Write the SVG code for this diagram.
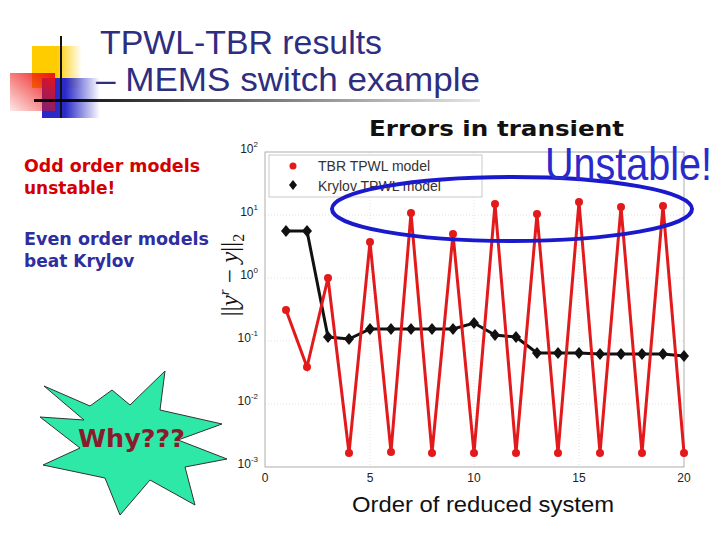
<svg xmlns="http://www.w3.org/2000/svg" width="720" height="540" viewBox="0 0 720 540">
<defs>
<style>
.t{font-family:"Liberation Sans",Arial,sans-serif}
.b{font-family:"DejaVu Sans","Liberation Sans",sans-serif;font-weight:bold}
.tick{font-family:"Liberation Sans",Arial,sans-serif;font-size:12px;fill:#222}
.grid{stroke:#ccc;stroke-width:0.6;stroke-dasharray:1 2}
.red{fill:#e31a1c}
</style>
<linearGradient id="gh" x1="0" x2="1"><stop offset="0" stop-color="#000"/><stop offset="1" stop-color="#000" stop-opacity="0.1"/></linearGradient>
<linearGradient id="gy" x1="0" x2="1"><stop offset="0.5" stop-color="#ffcc00"/><stop offset="1" stop-color="#ffcc00" stop-opacity="0"/></linearGradient>
<linearGradient id="gb" x1="0" x2="1"><stop offset="0.4" stop-color="#2a2ac8"/><stop offset="1" stop-color="#2a2ac8" stop-opacity="0"/></linearGradient>
<linearGradient id="gr" x1="1" x2="0" y1="0" y2="1"><stop offset="0" stop-color="#ee1111"/><stop offset="1" stop-color="#ee1111" stop-opacity="0.1"/></linearGradient>
</defs>
<rect width="720" height="540" fill="#fff"/>
<g id="logo">
<rect x="32" y="46" width="50" height="42" fill="url(#gy)"/>
<rect x="42" y="78" width="58" height="40" fill="url(#gb)"/>
<rect x="10" y="73" width="45" height="38" fill="url(#gr)"/>
<line x1="61" y1="36" x2="61" y2="118" stroke="#111" stroke-width="2"/>
<rect x="34" y="99" width="446" height="3" fill="url(#gh)"/>
</g>
<g id="title" class="t" fill="#2e2e80" font-size="33">
<text x="100" y="54" textLength="282" lengthAdjust="spacingAndGlyphs">TPWL-TBR results</text>
<text x="96" y="91" textLength="384" lengthAdjust="spacingAndGlyphs">– MEMS switch example</text>
</g>
<text class="b" x="369" y="136" font-size="22" textLength="255" lengthAdjust="spacingAndGlyphs" fill="#111">Errors in transient</text>
<g id="notes" class="b" font-size="17">
<text x="24" y="172" fill="#d40000" textLength="176" lengthAdjust="spacingAndGlyphs">Odd order models</text>
<text x="24" y="194" fill="#d40000">unstable!</text>
<text x="24" y="245" fill="#2e2ea0" textLength="185" lengthAdjust="spacingAndGlyphs">Even order models</text>
<text x="24" y="267" fill="#2e2ea0">beat Krylov</text>
</g>
<g id="plot">
<g class="grid">
<line x1="370" y1="152" x2="370" y2="467"/><line x1="474" y1="152" x2="474" y2="467"/><line x1="579" y1="152" x2="579" y2="467"/>
<line x1="265" y1="215" x2="684" y2="215"/><line x1="265" y1="278" x2="684" y2="278"/><line x1="265" y1="341" x2="684" y2="341"/><line x1="265" y1="404" x2="684" y2="404"/>
</g>
<rect x="265" y="152" width="419" height="315" fill="none" stroke="#999" stroke-width="0.8"/>
<g class="tick" text-anchor="end">
<text x="258" y="153">10<tspan font-size="8" dy="-6">2</tspan></text>
<text x="258" y="216">10<tspan font-size="8" dy="-6">1</tspan></text>
<text x="258" y="279">10<tspan font-size="8" dy="-6">0</tspan></text>
<text x="258" y="342">10<tspan font-size="8" dy="-6">-1</tspan></text>
<text x="258" y="405">10<tspan font-size="8" dy="-6">-2</tspan></text>
<text x="258" y="468">10<tspan font-size="8" dy="-6">-3</tspan></text>
</g>
<g class="tick" text-anchor="middle" font-size="13">
<text x="265" y="482">0</text><text x="370" y="482">5</text><text x="474" y="482">10</text><text x="579" y="482">15</text><text x="684" y="482">20</text>
</g>
<text transform="translate(238,275) rotate(-90)" text-anchor="middle" font-family="Liberation Serif,serif" font-size="25" fill="#111">||<tspan font-style="italic">y</tspan><tspan font-size="15" dy="-9" font-style="italic">r</tspan><tspan dy="9"> − </tspan><tspan font-style="italic">y</tspan>||<tspan font-size="16" dy="6">2</tspan></text>
<text class="t" x="352" y="512" font-size="22" textLength="262" lengthAdjust="spacingAndGlyphs" fill="#111">Order of reduced system</text>
<g id="legend">
<rect x="269" y="155" width="213" height="42" fill="#fff" stroke="#bbb" stroke-width="0.8"/>
<circle cx="293" cy="166" r="3.5" class="red"/>
<text class="t" x="318" y="171" font-size="14" fill="#333">TBR TPWL model</text>
<path d="M293 180 l4 5 l-4 5 l-4 -5z" fill="#111"/>
<text class="t" x="318" y="191" font-size="14" fill="#333">Krylov TPWL model</text>
</g>
<g id="connectors">
<polyline fill="none" stroke="#111" stroke-width="3" points="286,231 307,231 328,337 349,339 370,329 391,329 411,329 432,329 453,329 474,323 495,335 516,337 537,353 558,353 579,353 600,354 621,354 642,354 663,354 684,356"/>
<g fill="#111">
<path d="M286 225l5 6-5 6-5-6z"/><path d="M307 225l5 6-5 6-5-6z"/><path d="M328 331l5 6-5 6-5-6z"/><path d="M349 333l5 6-5 6-5-6z"/><path d="M370 323l5 6-5 6-5-6z"/><path d="M391 323l5 6-5 6-5-6z"/><path d="M411 323l5 6-5 6-5-6z"/><path d="M432 323l5 6-5 6-5-6z"/><path d="M453 323l5 6-5 6-5-6z"/><path d="M474 317l5 6-5 6-5-6z"/><path d="M495 329l5 6-5 6-5-6z"/><path d="M516 331l5 6-5 6-5-6z"/><path d="M537 347l5 6-5 6-5-6z"/><path d="M558 347l5 6-5 6-5-6z"/><path d="M579 347l5 6-5 6-5-6z"/><path d="M600 348l5 6-5 6-5-6z"/><path d="M621 348l5 6-5 6-5-6z"/><path d="M642 348l5 6-5 6-5-6z"/><path d="M663 348l5 6-5 6-5-6z"/><path d="M684 350l5 6-5 6-5-6z"/>
</g>
<polyline fill="none" stroke="#e31a1c" stroke-width="3" points="286,310 307,367 328,278 349,453 370,242 391,452 411,213 432,453 453,234 474,453 495,204 516,453 537,214 558,453 579,202 600,453 621,207 642,453 663,206 684,453"/>
<g class="red">
<circle cx="286" cy="310" r="4"/><circle cx="307" cy="367" r="4"/><circle cx="328" cy="278" r="4"/><circle cx="349" cy="453" r="4"/><circle cx="370" cy="242" r="4"/><circle cx="391" cy="452" r="4"/><circle cx="411" cy="213" r="4"/><circle cx="432" cy="453" r="4"/><circle cx="453" cy="234" r="4"/><circle cx="474" cy="453" r="4"/><circle cx="495" cy="204" r="4"/><circle cx="516" cy="453" r="4"/><circle cx="537" cy="214" r="4"/><circle cx="558" cy="453" r="4"/><circle cx="579" cy="202" r="4"/><circle cx="600" cy="453" r="4"/><circle cx="621" cy="207" r="4"/><circle cx="642" cy="453" r="4"/><circle cx="663" cy="206" r="4"/><circle cx="684" cy="453" r="4"/>
</g>
<ellipse cx="512" cy="209" rx="180" ry="32" fill="none" stroke="#1a1acc" stroke-width="4"/>
</g>
</g>
<text class="t" x="545" y="180" font-size="46" textLength="167" lengthAdjust="spacingAndGlyphs" fill="#2a2acc">Unstable!</text>
<g id="why">
<polygon points="44,386 90,406 112,390 130,405 165,371 160,410 222,424 178,440 227,459 185,467 195,505 150,480 120,515 105,478 43,465 80,448 40,417 84,420" fill="#2ee8a8" stroke="#333" stroke-width="1"/>
<text class="b" x="78" y="447" font-size="25" textLength="107" lengthAdjust="spacingAndGlyphs" fill="#8b1a2b">Why???</text>
</g>
</svg>
